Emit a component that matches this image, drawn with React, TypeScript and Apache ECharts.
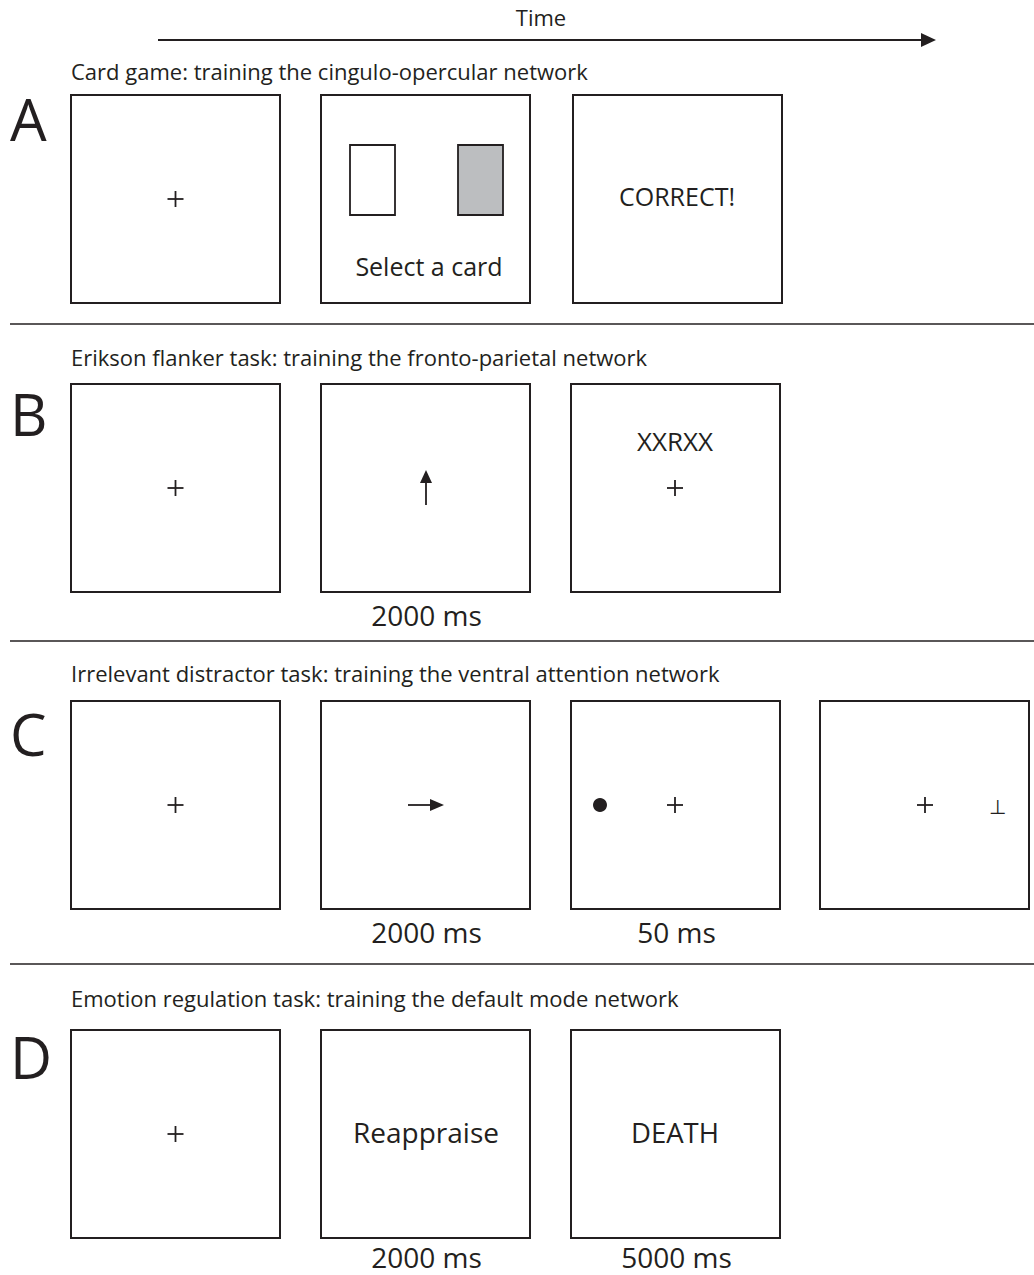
import React, { useEffect, useRef } from "react";
import * as echarts from "echarts";

const W = 1034;
const H = 1275;
const FONT = "'Open Sans', Lato, sans-serif";
const INK = "#231f20";

const timeLabel = "Time";
const panelLetters = ["A", "B", "C", "D"];
const panelTitles = [
  "Card game: training the cingulo-opercular network",
  "Erikson flanker task: training the fronto-parietal network",
  "Irrelevant distractor task: training the ventral attention network",
  "Emotion regulation task: training the default mode network",
];
const titleYs = [71, 357, 673, 998];
const letterYs = [118, 413, 733, 1056];
const boxTops = [95, 384, 701, 1030];
const boxLefts = [71, 321, 571, 820];
const boxCounts = [3, 3, 4, 3];
const separatorYs = [324, 641, 964];
const durations: (string | null)[][] = [
  [null, null, null],
  [null, "2000 ms", null],
  [null, "2000 ms", "50 ms", null],
  [null, "2000 ms", "5000 ms"],
];
const cardWord = "Select a card";
const feedbackWord = "CORRECT!";
const flankerWord = "XXRXX";
const cueWord = "Reappraise";
const stimulusWord = "DEATH";
const probeGlyph = "⊥";

const BW = 209;
const BH = 208;

function plus(cx: number, cy: number, s = 8) {
  return [
    { type: "line", shape: { x1: cx - s, y1: cy, x2: cx + s, y2: cy }, style: { stroke: INK, lineWidth: 1.8 } },
    { type: "line", shape: { x1: cx, y1: cy - s, x2: cx, y2: cy + s }, style: { stroke: INK, lineWidth: 1.8 } },
  ];
}

function txt(text: string, x: number, y: number, size: number, align = "center", extra: any = {}) {
  return {
    type: "text",
    x,
    y,
    style: { text, font: `${size}px ${FONT}`, fill: INK, textAlign: align, textVerticalAlign: "middle", ...extra },
  };
}

function buildGraphic() {
  const g: any[] = [];
  g.push(txt(timeLabel, 541, 17, 22));
  g.push({ type: "line", shape: { x1: 158, y1: 40, x2: 926, y2: 40 }, style: { stroke: INK, lineWidth: 2 } });
  g.push({ type: "polygon", shape: { points: [[921, 33], [936, 40], [921, 47]] }, style: { fill: INK } });

  separatorYs.forEach((y) => {
    g.push({ type: "line", shape: { x1: 10, y1: y, x2: W, y2: y }, style: { stroke: INK, lineWidth: 1.6 } });
  });

  panelTitles.forEach((t, p) => {
    g.push(txt(t, 71, titleYs[p], 22, "left"));
    g.push(txt(panelLetters[p], 10, letterYs[p], 58, "left"));
    const top = boxTops[p];
    for (let i = 0; i < boxCounts[p]; i++) {
      const left = boxLefts[i] + (p === 0 && i === 2 ? 2 : 0);
      g.push({
        type: "rect",
        shape: { x: left, y: top, width: BW, height: BH },
        style: { fill: "#fff", stroke: INK, lineWidth: 2 },
      });
      const d = durations[p][i];
      if (d) g.push(txt(d, left + BW / 2 + 1, Math.min(top + BH + 23, 1257), 28));
    }
    const cy = top + BH / 2;
    const cx = (i: number) => boxLefts[i] + BW / 2;
    if (p === 0) {
      g.push(...plus(cx(0), cy));
      g.push({ type: "rect", shape: { x: 350, y: 145, width: 45, height: 70 }, style: { fill: "#fff", stroke: INK, lineWidth: 1.8 } });
      g.push({ type: "rect", shape: { x: 458, y: 145, width: 45, height: 70 }, style: { fill: "#bcbec0", stroke: INK, lineWidth: 1.8 } });
      g.push(txt(cardWord, 429, 266, 25));
      g.push(txt(feedbackWord, 677, 196, 25));
    } else if (p === 1) {
      g.push(...plus(cx(0), cy));
      g.push({ type: "line", shape: { x1: 426, y1: 478, x2: 426, y2: 505 }, style: { stroke: INK, lineWidth: 1.8 } });
      g.push({ type: "polygon", shape: { points: [[420, 483], [426, 470], [432, 483]] }, style: { fill: INK } });
      g.push(txt(flankerWord, 675, 441, 26));
      g.push(...plus(675, 488));
    } else if (p === 2) {
      g.push(...plus(cx(0), cy));
      g.push({ type: "line", shape: { x1: 408, y1: 805, x2: 435, y2: 805 }, style: { stroke: INK, lineWidth: 1.8 } });
      g.push({ type: "polygon", shape: { points: [[430, 799], [444, 805], [430, 811]] }, style: { fill: INK } });
      g.push({ type: "circle", shape: { cx: 600, cy: 805, r: 7 }, style: { fill: INK } });
      g.push(...plus(675, 805));
      g.push(...plus(925, 805));
      g.push(txt(probeGlyph, 997, 806, 20));
    } else {
      g.push(...plus(cx(0), cy));
      g.push(txt(cueWord, 426, 1132, 28));
      g.push(txt(stimulusWord, 675, 1132, 27.5));
    }
  });
  return g;
}

export default function App() {
  const ref = useRef<HTMLDivElement>(null);
  useEffect(() => {
    document.body.style.margin = "0";
    const chart = echarts.init(ref.current!, undefined, { renderer: "svg" });
    chart.setOption({
      animation: false,
      backgroundColor: "#fff",
      graphic: { elements: buildGraphic() },
    });
    return () => chart.dispose();
  }, []);
  return <div ref={ref} style={{ width: W, height: H }} />;
}
